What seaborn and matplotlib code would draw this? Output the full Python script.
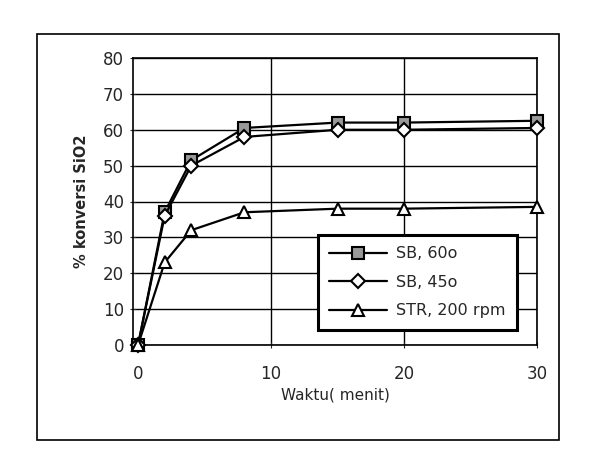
import matplotlib
matplotlib.use("Agg")
import matplotlib.pyplot as plt
import seaborn as sns
import pandas as pd
from matplotlib.patches import Rectangle

# data
waktu = [0, 2, 4, 8, 15, 20, 30]
sb60 = [0, 37, 51.5, 60.5, 62, 62, 62.5]
sb45 = [0, 36, 50, 58, 60, 60, 60.5]
str200 = [0, 23, 32, 37, 38, 38, 38.5]
labels = ['SB, 60o', 'SB, 45o', 'STR, 200 rpm']

df = pd.DataFrame({'waktu': waktu * 3,
                   'konversi': sb60 + sb45 + str200,
                   'seri': [labels[0]] * 7 + [labels[1]] * 7 + [labels[2]] * 7})

sns.set_style('white')
plt.rcParams['font.family'] = ['DejaVu Sans']

fig = plt.figure(figsize=(5.89, 4.67), dpi=100)
ax = fig.add_axes([133 / 589, 1 - 345 / 467, 404 / 589, 287 / 467])

# kotak luar
fig.patches.append(Rectangle((37 / 589, 1 - 440 / 467), 522 / 589, 406 / 467,
                             transform=fig.transFigure, fill=False,
                             edgecolor='black', linewidth=1.2))

sns.lineplot(data=df, x='waktu', y='konversi', hue='seri', style='seri',
             markers={labels[0]: 's', labels[1]: 'D', labels[2]: '^'},
             dashes=False, palette=['black'] * 3, linewidth=1.6,
             markersize=8, markeredgecolor='black', ax=ax, legend=False)

# warna marker
for line, fc, ms in zip(ax.lines, ['#999999', 'white', 'white'], [8, 7, 8]):
    line.set_markerfacecolor(fc)
    line.set_markersize(ms)
    line.set_markeredgewidth(1.5)
    line.set_clip_on(False)
    line.set_zorder(3)

ax.set_xlim(-0.38, 30)
ax.set_ylim(0, 80)
ax.set_xticks([0, 10, 20, 30])
ax.set_yticks(range(0, 81, 10))
ax.grid(True, color='black', linewidth=1.0)
ax.xaxis.get_gridlines()[0].set_visible(False)
for s in ax.spines.values():
    s.set_color('black')
    s.set_linewidth(1.2)
ax.tick_params(axis='y', labelsize=12, length=5, direction='inout', left=True, pad=4)
ax.tick_params(axis='x', labelsize=12, length=5, direction='inout', bottom=True, pad=12)
ax.set_xlabel('Waktu( menit)', fontsize=11, labelpad=3)
ax.set_ylabel('% konversi SiO2', fontsize=10.5, fontweight='bold', labelpad=10)

leg = ax.legend(handles=ax.lines, labels=labels, loc='upper left',
                bbox_to_anchor=(318 / 589, 1 - 235 / 467),
                bbox_transform=fig.transFigure, frameon=True, fancybox=False,
                fontsize=11.5, handlelength=3.6, borderpad=0.7, labelspacing=0.85,
                borderaxespad=0, handletextpad=0.6)
leg.get_frame().set_edgecolor('black')
leg.get_frame().set_linewidth(2.2)
leg.get_frame().set_alpha(1)

fig.savefig('out.png', dpi=100)
